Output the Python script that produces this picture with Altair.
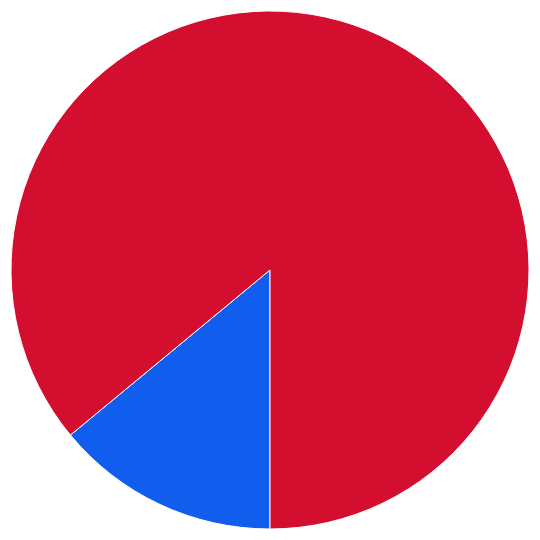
import altair as alt
import pandas as pd

categories = ["Blue", "Red"]
values = [14, 86]
colors = ["#115EEE", "#D40E2F"]

df = pd.DataFrame({"category": categories, "value": values, "order": [0, 1]})

chart = alt.Chart(df).mark_arc(radius=259, stroke="white", strokeWidth=1).encode(
    theta=alt.Theta("value:Q", stack=True, scale=alt.Scale(range=[3.141592653589793, 3 * 3.141592653589793])),
    order=alt.Order("order:Q"),
    color=alt.Color("category:N", scale=alt.Scale(domain=categories, range=colors), legend=None),
).properties(width=524, height=524, padding=0, autosize=alt.AutoSizeParams(type="none")).configure_view(stroke=None)

chart.save("out.html", embed_options={"renderer": "svg", "actions": False})
